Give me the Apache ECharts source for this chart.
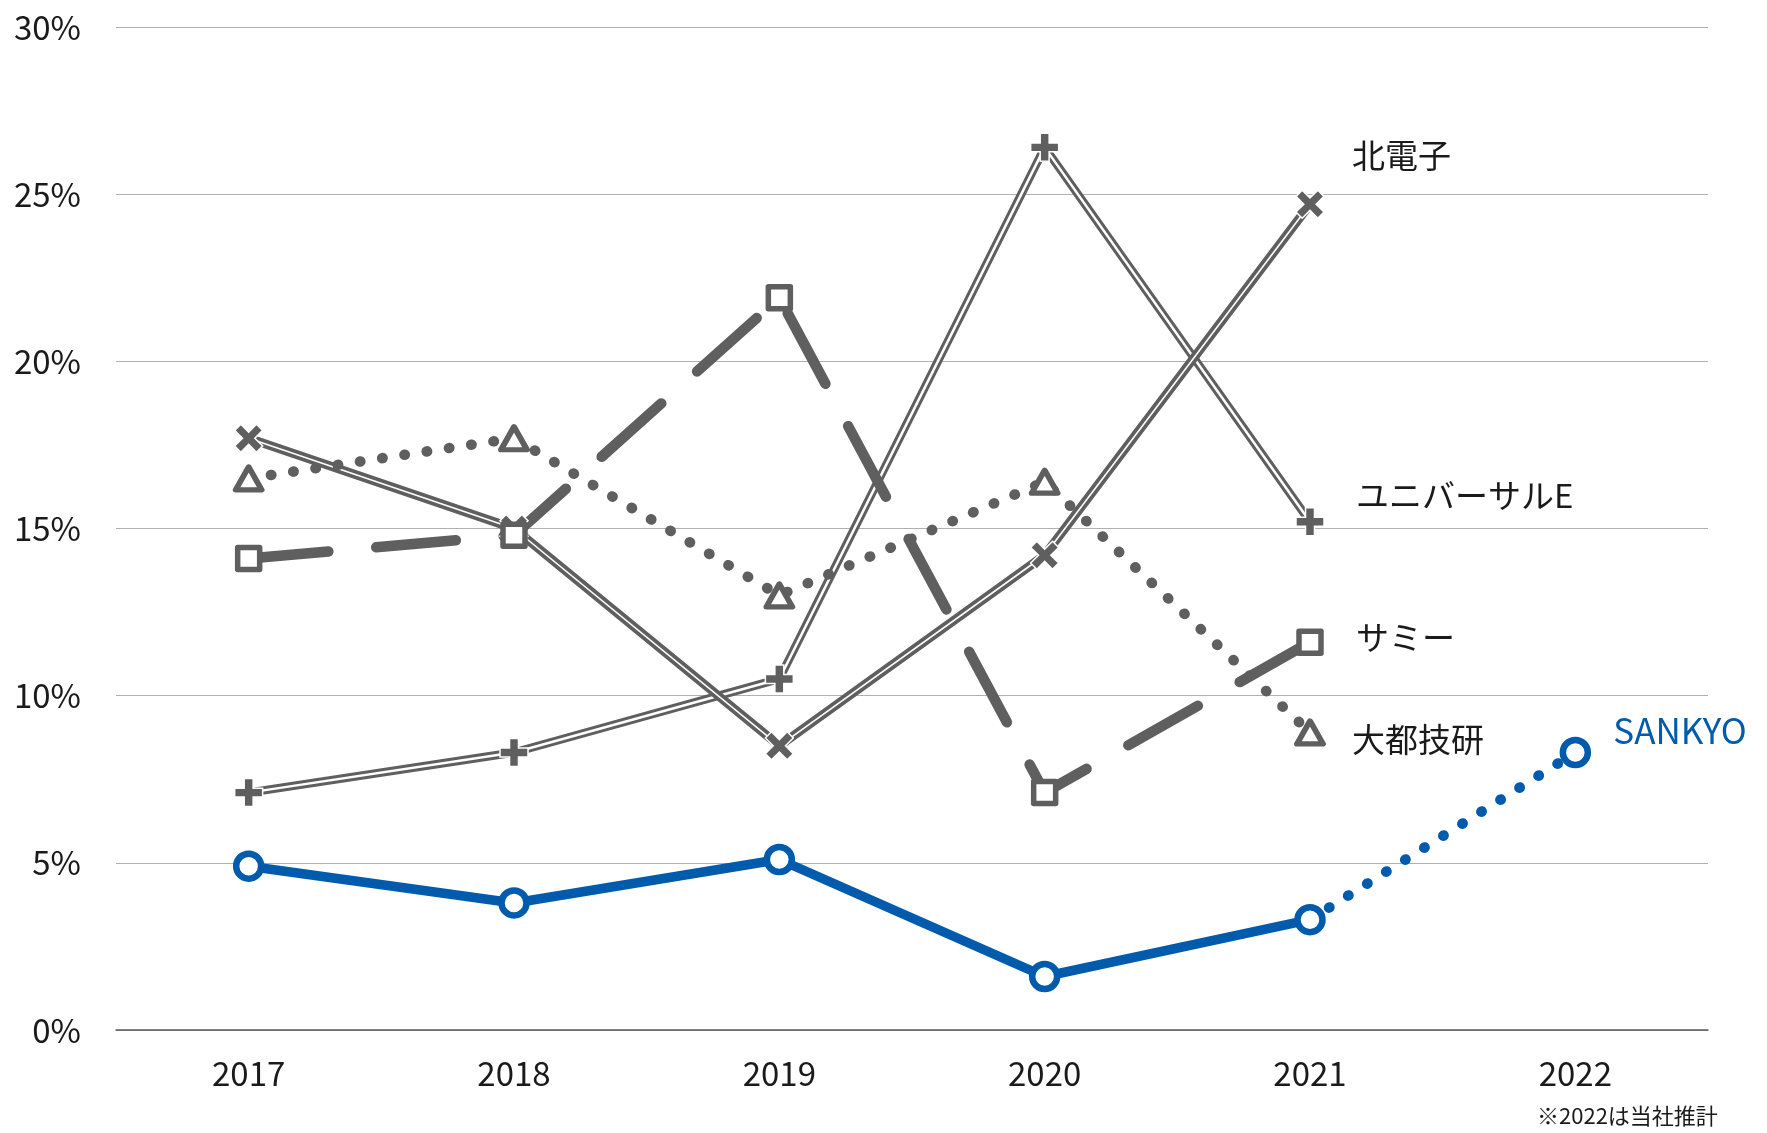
<!DOCTYPE html>
<html>
<head>
    <meta charset="UTF-8">
    <title>営業利益率の推移</title>
    <script type="text/javascript" src="https://cdn.jsdelivr.net/npm/echarts@6/dist/echarts.min.js"></script>
    <style type="text/css">
        html, body { margin: 0; padding: 0; background: #fff; }
        #main { width: 1767px; height: 1133px; }
    </style>
</head>
<body>
<div id="main"></div>
<script>
// 年度
var years = ['2017', '2018', '2019', '2020', '2021', '2022'];
var yTicks = [0, 5, 10, 15, 20, 25, 30];
// 各社 (%)
var sankyo = [4.9, 3.8, 5.1, 1.6, 3.3, 8.3];
var kitaDenshi = [17.7, 15.0, 8.5, 14.2, 24.7];
var universal = [7.1, 8.3, 10.5, 26.4, 15.2];
var sammy = [14.1, 14.8, 21.9, 7.1, 11.6];
var daito = [16.5, 17.7, 13.0, 16.4, 8.9];

var grey = '#5f5f5f';
var blue = '#005bac';
var font = '"Noto Sans CJK JP", "Noto Sans", sans-serif';

var p = 3.4;
var plusPath = 'path://M' + p + ',0 L' + (10 - p) + ',0 L' + (10 - p) + ',' + p + ' L10,' + p + ' L10,' + (10 - p) +
    ' L' + (10 - p) + ',' + (10 - p) + ' L' + (10 - p) + ',10 L' + p + ',10 L' + p + ',' + (10 - p) +
    ' L0,' + (10 - p) + ' L0,' + p + ' L' + p + ',' + p + ' Z';
var a = 2.2;
var crossPath = 'path://M0,' + a + ' L' + a + ',0 L5,' + (5 - a) + ' L' + (10 - a) + ',0 L10,' + a +
    ' L' + (5 + a) + ',5 L10,' + (10 - a) + ' L' + (10 - a) + ',10 L5,' + (5 + a) +
    ' L' + a + ',10 L0,' + (10 - a) + ' L' + (5 - a) + ',5 Z';

// 線だけのシリーズ
function lineOnly(name, values, lineStyle, z) {
    return {
        name: name, type: 'line', data: values, z: z,
        showSymbol: false, symbol: 'none', silent: true,
        lineStyle: lineStyle
    };
}

// マーカーとラベルだけのシリーズ
function marks(name, values, symbol, size, itemStyle, off, color, z, fs) {
    var last = values.length - 1;
    var data = values.map(function (v, i) {
        if (i !== last) return v;
        return {
            value: v,
            label: {
                show: true, position: 'inside', align: 'left', verticalAlign: 'middle',
                offset: off, formatter: name, fontSize: fs || 33, fontFamily: font, color: color
            }
        };
    });
    return {
        name: name, type: 'line', data: data, z: z || 10, silent: true,
        symbol: symbol, symbolSize: size, showSymbol: true,
        lineStyle: { opacity: 0, width: 0 },
        itemStyle: itemStyle
    };
}

var myChart = echarts.init(document.getElementById('main'));
myChart.setOption({
    animation: false,
    backgroundColor: '#fff',
    grid: { left: 116, right: 59, top: 27, bottom: 103 },
    xAxis: {
        type: 'category', data: years, boundaryGap: true,
        axisTick: { show: false },
        axisLine: { lineStyle: { color: '#595959', width: 1.5 } },
        axisLabel: { fontSize: 33, fontFamily: font, color: '#1a1a1a', margin: 27 }
    },
    yAxis: {
        type: 'value', min: yTicks[0], max: yTicks[yTicks.length - 1], interval: 5,
        axisLine: { show: false }, axisTick: { show: false },
        splitLine: { lineStyle: { color: '#b0b0b0', width: 1.2 } },
        axisLabel: { fontSize: 33, fontFamily: font, color: '#1a1a1a', margin: 35, formatter: '{value}%' }
    },
    graphic: [{
        type: 'text', left: 1537, top: 1105,
        style: { text: '※2022は当社推計', fontSize: 22, fontFamily: font, fill: '#1a1a1a' }
    }],
    series: [
        // ユニバーサルE: 二重線
        lineOnly('ユニバーサルE', universal, { color: grey, width: 8.5 }, 1),
        lineOnly('ユニバーサルE', universal, { color: '#fff', width: 2.5 }, 2),
        // 北電子: 二重線
        lineOnly('北電子', kitaDenshi, { color: grey, width: 9 }, 3),
        lineOnly('北電子', kitaDenshi, { color: '#fff', width: 1.6 }, 4),
        // 大都技研: 点線
        lineOnly('大都技研', daito, { color: grey, width: 10.5, type: [0.5, 22], cap: 'round' }, 5),
        // サミー: 長破線
        lineOnly('サミー', sammy, { color: grey, width: 10.5, type: [80, 48], cap: 'round', join: 'round' }, 6),

        marks('ユニバーサルE', universal, plusPath, 28,
            { color: grey, borderColor: '#fff', borderWidth: 1.5 }, [46, -26], '#1a1a1a'),
        marks('北電子', kitaDenshi, crossPath, 28,
            { color: grey, borderColor: '#fff', borderWidth: 1.5 }, [42, -49], '#1a1a1a'),
        marks('大都技研', daito, 'triangle', [26, 23],
            { color: '#fff', borderColor: grey, borderWidth: 5.5, borderJoin: 'round' }, [42, 7], '#1a1a1a'),
        marks('サミー', sammy, 'rect', 22,
            { color: '#fff', borderColor: grey, borderWidth: 5.5, borderJoin: 'round' }, [46, -5], '#1a1a1a'),

        // SANKYO
        lineOnly('SANKYO', sankyo.slice(0, 5), { color: blue, width: 9.5 }, 11),
        lineOnly('SANKYO', sankyo.map(function (v, i) { return i >= 4 ? v : '-'; }),
            { color: blue, width: 10.5, type: [0.5, 22], cap: 'round' }, 11),
        marks('SANKYO', sankyo, 'circle', 25,
            { color: '#fff', borderColor: blue, borderWidth: 6.5 }, [38, -22], blue, 12, 35)
    ]
});
</script>
</body>
</html>
